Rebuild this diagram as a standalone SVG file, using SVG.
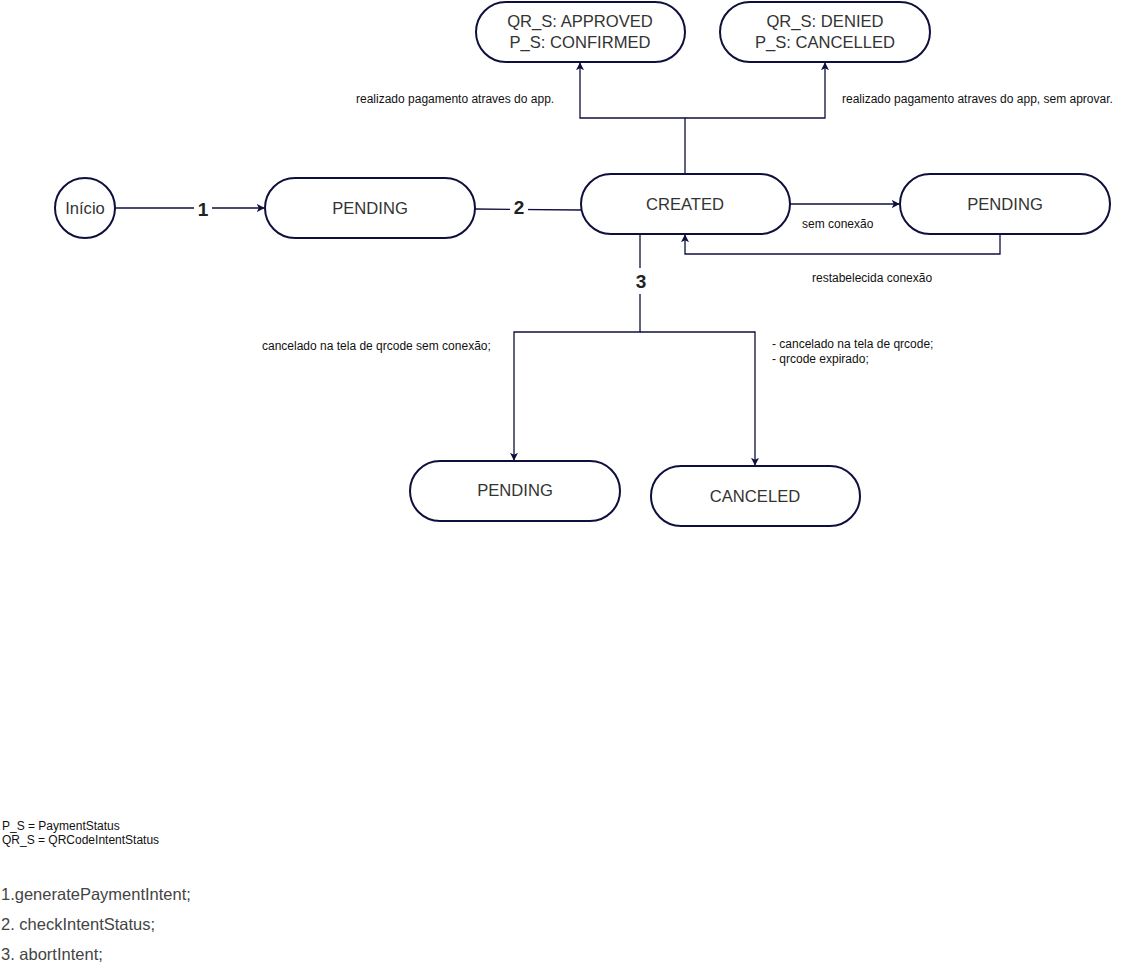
<svg xmlns="http://www.w3.org/2000/svg" width="1132" height="979" viewBox="0 0 1132 979">
<style>
.n{fill:#fff;stroke:#0f0f3d;stroke-width:2}
.t{font-family:"Liberation Sans",Arial,sans-serif;font-size:16.6px;fill:#333;text-anchor:middle;dominant-baseline:central}
.c{fill:none;stroke:#0f0f3d;stroke-width:1.3}
.l{font-family:"Liberation Sans",Arial,sans-serif;font-size:12px;fill:#111}
.b{font-family:"Liberation Sans",Arial,sans-serif;font-size:19px;font-weight:bold;fill:#222;text-anchor:middle;dominant-baseline:central}
.g{font-family:"Liberation Sans",Arial,sans-serif;font-size:16.5px;fill:#444}
</style>
<defs>
<marker id="a" viewBox="0 0 10 10" refX="9" refY="5" markerWidth="8" markerHeight="8" markerUnits="userSpaceOnUse" orient="auto">
<path d="M0,0 L10,5 L0,10 L2.5,5 Z" fill="#0f0f3d"/>
</marker>
</defs>
<g id="connectors">
<line class="c" x1="115" y1="208" x2="264" y2="208" marker-end="url(#a)"/>
<rect x="194" y="198" width="18" height="22" fill="#fff"/>
<text class="b" x="203" y="209">1</text>
<line class="c" x1="475" y1="209" x2="581" y2="210"/>
<rect x="510" y="196" width="18" height="22" fill="#fff"/>
<text class="b" x="519" y="207">2</text>
<path class="c" d="M685,174 V118 H580 V63" marker-end="url(#a)"/>
<path class="c" d="M685,118 H825 V63" marker-end="url(#a)"/>
<text class="l" x="356" y="103">realizado pagamento atraves do app.</text>
<text class="l" x="842" y="103">realizado pagamento atraves do app, sem aprovar.</text>
<line class="c" x1="790" y1="204" x2="899" y2="204" marker-end="url(#a)"/>
<text class="l" x="802" y="228">sem conexão</text>
<path class="c" d="M1000,234 V254 H685 V235" marker-end="url(#a)"/>
<text class="l" x="812" y="282">restabelecida conexão</text>
<path class="c" d="M640,234 V332 H514 V460" marker-end="url(#a)"/>
<path class="c" d="M640,332 H755 V465" marker-end="url(#a)"/>
<rect x="631" y="268" width="20" height="26" fill="#fff"/>
<text class="b" x="641" y="281">3</text>
<text class="l" x="262" y="350">cancelado na tela de qrcode sem conexão;</text>
<text class="l" x="772" y="348">- cancelado na tela de qrcode;</text>
<text class="l" x="772" y="363">- qrcode expirado;</text>
</g>
<g id="inicio">
<circle class="n" cx="85" cy="208" r="30"/>
<text class="t" x="85" y="208">Início</text>
</g>
<g id="pending1">
<rect class="n" x="265" y="178" width="210" height="60" rx="30"/>
<text class="t" x="370" y="208">PENDING</text>
</g>
<g id="created">
<rect class="n" x="581" y="174" width="209" height="60" rx="30"/>
<text class="t" x="685" y="204">CREATED</text>
</g>
<g id="pending2">
<rect class="n" x="900" y="174" width="210" height="60" rx="30"/>
<text class="t" x="1005" y="204">PENDING</text>
</g>
<g id="approved">
<rect class="n" x="476" y="2" width="209" height="60" rx="30"/>
<text class="t" x="580" y="21">QR_S: APPROVED</text>
<text class="t" x="580" y="42">P_S: CONFIRMED</text>
</g>
<g id="denied">
<rect class="n" x="720" y="2" width="210" height="60" rx="30"/>
<text class="t" x="825" y="21">QR_S: DENIED</text>
<text class="t" x="825" y="42">P_S: CANCELLED</text>
</g>
<g id="pending3">
<rect class="n" x="410" y="461" width="210" height="60" rx="30"/>
<text class="t" x="515" y="490">PENDING</text>
</g>
<g id="canceled">
<rect class="n" x="651" y="466" width="209" height="60" rx="30"/>
<text class="t" x="755" y="496">CANCELED</text>
</g>
<g id="legend">
<text class="l" x="2" y="830">P_S = PaymentStatus</text>
<text class="l" x="2" y="844">QR_S = QRCodeIntentStatus</text>
<text class="g" x="1" y="900">1.generatePaymentIntent;</text>
<text class="g" x="1" y="930">2. checkIntentStatus;</text>
<text class="g" x="1" y="960">3. abortIntent;</text>
</g>
</svg>
